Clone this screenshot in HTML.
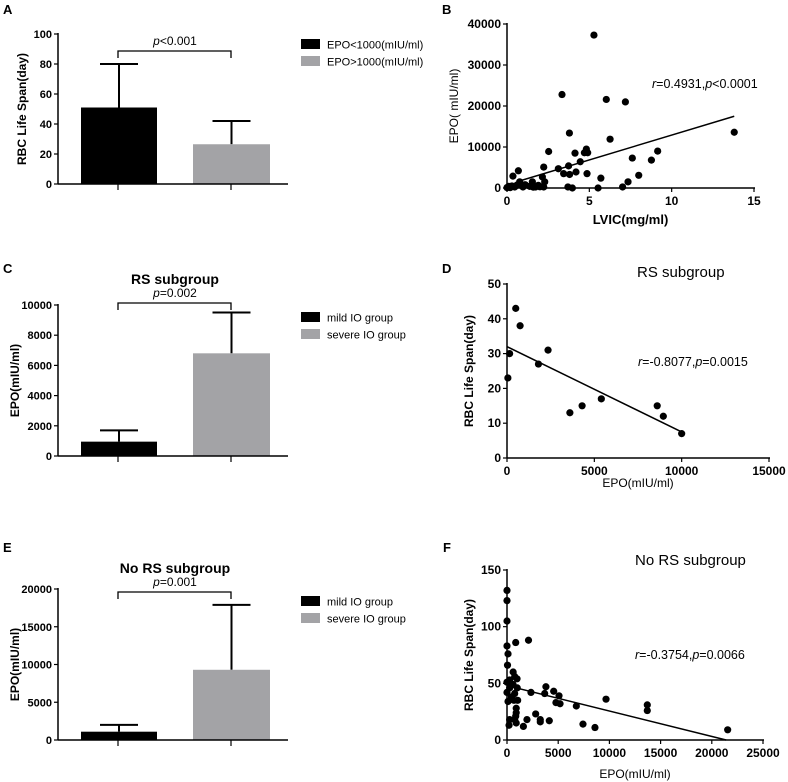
<!DOCTYPE html>
<html><head><meta charset="utf-8">
<style>
body{margin:0;background:#fff;}
svg{display:block;font-family:"Liberation Sans",Arial,sans-serif;}
.tk{font-size:11px;font-weight:bold;}
.tk2{font-size:12px;font-weight:bold;}
</style></head>
<body>
<svg id="fig" width="788" height="782" viewBox="0 0 788 782" xmlns="http://www.w3.org/2000/svg"></svg>
<script>
// ---- Data ----
const barCatsA = ["EPO<1000(mIU/ml)", "EPO>1000(mIU/ml)"];
const barMeansA = [51, 26.5];
const barErrA = [80, 42];
const barCatsC = ["mild IO group", "severe IO group"];
const barMeansC = [950, 6800];
const barErrC = [1700, 9500];
const barMeansE = [1100, 9300];
const barErrE = [2000, 17900];
const ticksA = [0, 20, 40, 60, 80, 100];
const ticksC = [0, 2000, 4000, 6000, 8000, 10000];
const ticksE = [0, 5000, 10000, 15000, 20000];

const bX = [5.28,3.34,6.03,7.19,13.8,3.79,6.26,2.53,4.82,4.7,4.9,4.13,7.61,9.15,8.77,4.45,3.12,3.74,4.19,3.44,3.8,4.86,5.7,8.0,7.35,7.02,5.53,3.7,3.97,2.23,0.36,0.69,0.77,2.15,1.54,1.9,0.1,0.47,0.97,1.38,1.74,2.23,2.29,0.0,0.2,0.6,1.1,1.6,2.0,0.3];
const bY = [37300,22800,21600,21000,13600,13400,11900,8900,9500,8600,8600,8500,7300,9000,6800,6400,4700,5400,3900,3500,3300,3500,2400,3100,1500,250,0,250,0,5100,2900,4200,1500,2700,1500,650,400,250,250,400,250,250,1500,100,100,700,800,200,300,500];
const bXTicks = [0, 5, 10, 15];
const bYTicks = [0, 10000, 20000, 30000, 40000];

const dX = [50,150,500,750,1800,2350,3600,4300,5400,8600,8950,10000];
const dY = [23,30,43,38,27,31,13,15,17,15,12,7];
const dXTicks = [0, 5000, 10000, 15000];
const dYTicks = [0, 10, 20, 30, 40, 50];

const fX = [0,0,0,0,100,50,2100,850,600,0,0,260,750,980,590,1000,750,420,680,1040,900,900,850,750,900,260,200,1600,1950,2340,2800,3250,3250,3800,3680,4130,4560,4780,5080,5180,6770,9670,7420,8590,13700,13700,21550,260,100,360];
const fY = [132,123,105,83,76,66,88,86,60,51,42,46,56,54,49,46,41,38,35,35,28,24,21,18,15,18,13,12,18,42,23,16,18,47,41,17,43,33,39,32,30,36,14,11,31,26,9,53,34,50];
const fXTicks = [0, 5000, 10000, 15000, 20000, 25000];
const fYTicks = [0, 50, 100, 150];

const NS = "http://www.w3.org/2000/svg";
const svg = document.getElementById("fig");
function el(tag, attrs, parent, text){
  const e = document.createElementNS(NS, tag);
  for (const k in attrs) e.setAttribute(k, attrs[k]);
  if (text !== undefined) e.textContent = text;
  (parent || svg).appendChild(e);
  return e;
}
function lin(d0,d1,r0,r1){return v => r0 + (v-d0)/(d1-d0)*(r1-r0);}

function panelLabel(t,x,y){
  const e = el("text",{x:x,y:y,"font-size":13,"font-weight":"bold"},svg,t);
  
  
}

function barPanel(o){
  const g = el("g",{});
  
  
  const y = lin(0, o.ymax, o.y0, o.y1);
  const ax = 58;
  const bx = [[81,157],[193,270]];
  const cols = ["#000","#a3a3a6"];
  o.means.forEach((m,i)=>{
    const cx = (bx[i][0]+bx[i][1])/2;
    const err = el("line",{x1:cx,x2:cx,y1:y(m),y2:y(o.errs[i]),stroke:"#000","stroke-width":2},g);
    
    
    const cap = el("line",{x1:cx-19,x2:cx+19,y1:y(o.errs[i]),y2:y(o.errs[i]),stroke:"#000","stroke-width":2},g);
    
    
    const r = el("rect",{x:bx[i][0],y:y(m),width:bx[i][1]-bx[i][0],height:y(0)-y(m),fill:cols[i]},g);
    
    
  });
  const ya = el("line",{x1:ax,x2:ax,y1:y(o.ymax)-1,y2:y(0),stroke:"#000","stroke-width":1.5},g);
  
  
  const xa = el("line",{x1:ax,x2:288,y1:y(0),y2:y(0),stroke:"#000","stroke-width":1.5},g);
  
  
  [118,231].forEach(tx=>el("line",{x1:tx,x2:tx,y1:y(0),y2:y(0)+6,stroke:"#000","stroke-width":1.2},g));
  o.ticks.forEach(t=>{
    el("line",{x1:ax-4,x2:ax,y1:y(t),y2:y(t),stroke:"#000","stroke-width":1.2},g);
    const tl = el("text",{x:ax-6,y:y(t)+4,"text-anchor":"end",class:"tk"},g,String(t));
    
    
  });
  const yl = el("text",{x:0,y:0,"font-size":12,"font-weight":"bold","text-anchor":"middle",transform:`translate(${o.ylx},${(y(0)+y(o.ymax))/2}) rotate(-90)`},g,o.ylabel);
  
  
  const br = el("path",{d:`M118,${o.by+7} V${o.by} H231 V${o.by+7}`,fill:"none",stroke:"#000","stroke-width":1.3},g);
  
  
  const pt = el("text",{x:175,y:o.by-6,"font-size":12,"text-anchor":"middle"},g);
  
  
  el("tspan",{"font-style":"italic"},pt,"p");
  el("tspan",{},pt,o.ptext);
  if (o.title){
    const tt = el("text",{x:175,y:o.ty,"font-size":14,"font-weight":"bold","text-anchor":"middle"},g,o.title);
    
    
  }
  o.cats.forEach((c,i)=>{
    const ly = o.ly + i*17;
    const sw = el("rect",{x:301,y:ly,width:19,height:10,fill:cols[i]},g);
    
    
    const lt = el("text",{x:327,y:ly+9.5,"font-size":11},g,c);
    
    
  });
}

function scatterPanel(o){
  const g = el("g",{});
  
  
  const x = lin(0,o.xmax,o.x0,o.x1), y = lin(0,o.ymax,o.y0,o.y1);
  const ya = el("line",{x1:o.x0,x2:o.x0,y1:o.y1-1,y2:o.y0,stroke:"#000","stroke-width":1.5},g);
  
  
  const xa = el("line",{x1:o.x0,x2:o.x1+1,y1:o.y0,y2:o.y0,stroke:"#000","stroke-width":1.5},g);
  
  
  o.yt.forEach(t=>{
    el("line",{x1:o.x0-4,x2:o.x0,y1:y(t),y2:y(t),stroke:"#000","stroke-width":1.2},g);
    const tl = el("text",{x:o.x0-6,y:y(t)+4,"text-anchor":"end",class:"tk2"},g,String(t));
    
    
  });
  o.xt.forEach(t=>{
    el("line",{x1:x(t),x2:x(t),y1:o.y0,y2:o.y0+4,stroke:"#000","stroke-width":1.2},g);
    const tl = el("text",{x:x(t),y:o.y0+17,"text-anchor":"middle",class:"tk2"},g,String(t));
    
    
  });
  o.xs.forEach((v,i)=>{
    const c = el("circle",{cx:x(v),cy:y(o.ys[i]),r:3.6,fill:"#000"},g);
    
    
  });
  const rl = el("line",{x1:x(o.line[0]),y1:y(o.line[1]),x2:x(o.line[2]),y2:y(o.line[3]),stroke:"#000","stroke-width":1.5},g);
  
  
  const yl = el("text",{x:0,y:0,"font-size":12,"font-weight":o.ybold?"bold":"normal","text-anchor":"middle",transform:`translate(${o.ylx},${(o.y0+o.y1)/2}) rotate(-90)`},g,o.ylabel);
  
  
  const xl = el("text",{x:(o.x0+o.x1)/2,y:o.xly,"font-size":o.xbold?13:12,"font-weight":o.xbold?"bold":"normal","text-anchor":"middle"},g,o.xlabel);
  
  
  const an = el("text",{x:o.ax,y:o.ay,"font-size":12.5},g);
  
  
  el("tspan",{"font-style":"italic"},an,"r");
  el("tspan",{},an,o.r+",");
  el("tspan",{"font-style":"italic"},an,"p");
  el("tspan",{},an,o.p);
  if (o.title){
    const tt = el("text",{x:o.tx,y:o.ty,"font-size":15},g,o.title);
    
    
  }
}

panelLabel("A",3,14); panelLabel("B",442,14);
panelLabel("C",3,273); panelLabel("D",442,273);
panelLabel("E",3,552); panelLabel("F",443,552);

barPanel({name:"panel-a-bar-chart",means:barMeansA,errs:barErrA,ymax:100,y0:184,y1:34,ticks:ticksA,
  ylabel:"RBC Life Span(day)",ylx:26,by:51,ptext:"<0.001",cats:barCatsA,ly:39});
barPanel({name:"panel-c-bar-chart",means:barMeansC,errs:barErrC,ymax:10000,y0:456,y1:305,ticks:ticksC,
  ylabel:"EPO(mIU/ml)",ylx:19,by:303,ptext:"=0.002",title:"RS subgroup",ty:284,cats:barCatsC,ly:312});
barPanel({name:"panel-e-bar-chart",means:barMeansE,errs:barErrE,ymax:20000,y0:740,y1:589,ticks:ticksE,
  ylabel:"EPO(mIU/ml)",ylx:19,by:592,ptext:"=0.001",title:"No RS subgroup",ty:573,cats:barCatsC,ly:596});

scatterPanel({name:"panel-b-scatter",xs:bX,ys:bY,xmax:15,ymax:40000,x0:507,x1:754,y0:188,y1:24,
  xt:bXTicks,yt:bYTicks,line:[0.6,1526,13.8,17500],ylabel:"EPO( mIU/ml)",ylx:458,xlabel:"LVIC(mg/ml)",xbold:true,xly:224,
  ax:652,ay:88,r:"=0.4931",p:"<0.0001"});
scatterPanel({name:"panel-d-scatter",xs:dX,ys:dY,xmax:15000,ymax:50,x0:507,x1:769,y0:458,y1:284,
  xt:dXTicks,yt:dYTicks,line:[0,32,10000,7.5],ylabel:"RBC Life Span(day)",ybold:true,ylx:473,xlabel:"EPO(mIU/ml)",xly:487,
  ax:638,ay:366,r:"=-0.8077",p:"=0.0015",title:"RS subgroup",tx:637,ty:277});
scatterPanel({name:"panel-f-scatter",xs:fX,ys:fY,xmax:25000,ymax:150,x0:507,x1:763,y0:740,y1:570,
  xt:fXTicks,yt:fYTicks,line:[0,48,21400,0],ylabel:"RBC Life Span(day)",ybold:true,ylx:473,xlabel:"EPO(mIU/ml)",xly:778,
  ax:635,ay:659,r:"=-0.3754",p:"=0.0066",title:"No RS subgroup",tx:635,ty:565});
</script>
</body></html>
